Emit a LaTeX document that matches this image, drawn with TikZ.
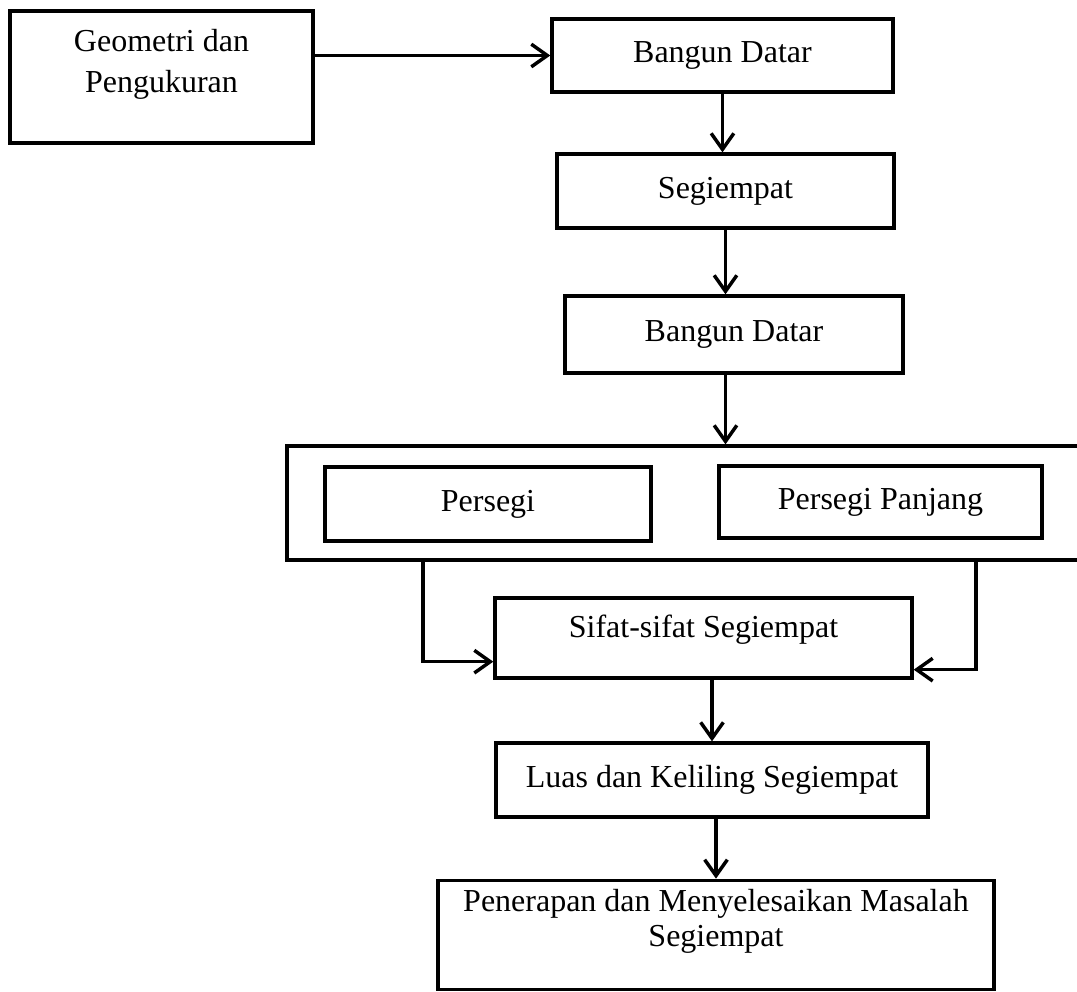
\documentclass[tikz,border=0pt]{standalone}
\usepackage{fontspec}
\setmainfont{Liberation Serif}
\usetikzlibrary{arrows.meta}

\begin{document}
\begin{tikzpicture}[x=0.375pt, y=-0.375pt,
  box/.style={draw=black, line width=1.25pt, rectangle, inner sep=0pt, align=center, font=\fontsize{12pt}{14.4pt}\selectfont},
  lbl/.style={inner sep=0pt, align=center, anchor=north},
  arr/.style={black, line width=1.3pt, ->},
  >={Straight Barb[length=6pt,width=8.5pt]}]
  \path[use as bounding box, clip] (0,0) rectangle (1077,992);

  % kotak-kotak
  \node[box, minimum width=113.6pt, minimum height=49.5pt,
        label={[lbl, yshift=-7.3pt, font=\fontsize{12pt}{15.4pt}\selectfont]north:Geometri dan\\Pengukuran}] (geo) at (161.5,77) {};
  \node[box, minimum width=127.9pt, minimum height=27.4pt] (bd1) at (722.5,55.5) {Bangun Datar};
  \node[box, minimum width=126.4pt, minimum height=27.75pt] (seg) at (725.5,191) {Segiempat};
  \node[box, minimum width=126.75pt, minimum height=28.9pt] (bd2) at (734,334.5) {Bangun Datar};
  \node[box, minimum width=301.1pt, minimum height=42.75pt] (grp) at (688.5,503) {};
   \node[box, minimum width=122.25pt, minimum height=27.75pt] (sq) at (488,504) {Persegi};
   \node[box, minimum width=121.1pt, minimum height=27pt] (pp) at (880.5,502) {Persegi Panjang};
  \node[box, minimum width=156.4pt, minimum height=30pt,
        label={[lbl, yshift=-6.9pt, font=\fontsize{12pt}{14.4pt}\selectfont]north:Sifat-sifat Segiempat}] (sifat) at (703.5,638) {};
  \node[box, minimum width=162pt, minimum height=27.75pt] (luas) at (712,780) {Luas dan Keliling Segiempat};
  \node[box, minimum width=208.5pt, minimum height=41pt,
        label={[lbl, yshift=-3.6pt, font=\fontsize{12pt}{13.2pt}\selectfont]north:Penerapan dan Menyelesaikan Masalah\\Segiempat}] (pen) at (716,935) {};

  \coordinate (lft) at (423,560);
  \coordinate (rgt) at (976,560);

  % panah
  \draw[arr] (geo.east |- bd1.west) -- (bd1.west);
  \draw[arr] (bd1.south) -- (bd1.south |- seg.north);
  \draw[arr] (seg.south) -- (seg.south |- bd2.north);
  \draw[arr] (seg.south |- bd2.south) -- (seg.south |- grp.north);
  \draw[arr] (lft) |- ([yshift=6.75pt]sifat.south west);
  \draw[arr] (rgt) |- ([yshift=3.75pt]sifat.south east);
  \draw[arr] (sifat.south -| luas.north) -- (luas.north);
  \draw[arr] (luas.south -| pen.north) -- (pen.north);
\end{tikzpicture}
\end{document}
